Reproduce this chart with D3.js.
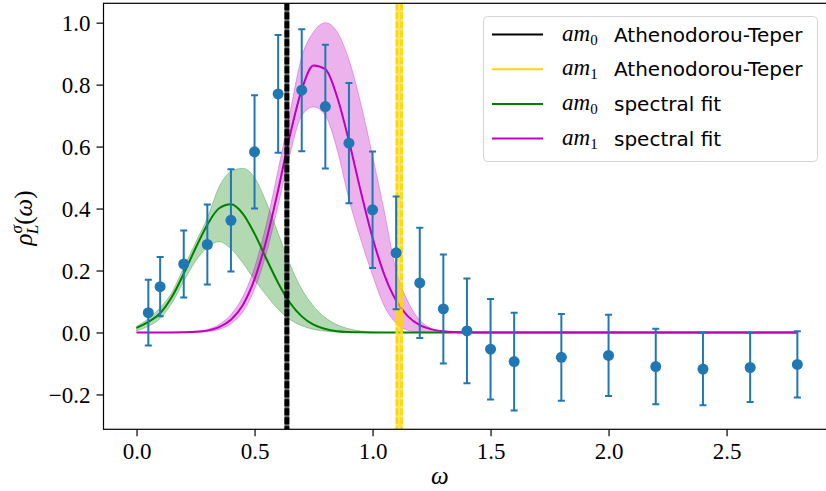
<!DOCTYPE html>
<html>
<head>
<meta charset="utf-8">
<script src="https://cdn.jsdelivr.net/npm/d3@7"></script>
<style>
  body { margin: 0; background: #fff; }
</style>
</head>
<body>
<svg id="chart"></svg>
<script>
// lattice data points (omega, rho, error)
var omega = [0.05, 0.1, 0.2, 0.3, 0.4, 0.5, 0.6, 0.7, 0.8, 0.9, 1.0, 1.1, 1.2, 1.3, 1.4, 1.5, 1.6, 1.8, 2.0, 2.2, 2.4, 2.6, 2.8];
var rho = [0.064, 0.148, 0.221, 0.284, 0.362, 0.583, 0.770, 0.782, 0.729, 0.611, 0.396, 0.257, 0.160, 0.076, 0.005, -0.054, -0.094, -0.080, -0.074, -0.110, -0.118, -0.113, -0.103];
var rhoErr = [0.106, 0.096, 0.108, 0.129, 0.165, 0.183, 0.190, 0.197, 0.200, 0.194, 0.188, 0.182, 0.178, 0.176, 0.169, 0.162, 0.158, 0.140, 0.131, 0.122, 0.117, 0.111, 0.107];

var fitOmega = [0, 0.05, 0.1, 0.15, 0.2, 0.25, 0.3, 0.35, 0.4, 0.45, 0.5, 0.55, 0.6, 0.65, 0.7, 0.75, 0.8, 0.85, 0.9, 0.95, 1.0, 1.05, 1.1, 1.15, 1.2, 1.25, 1.3, 1.35, 1.4, 1.45, 1.5, 2.8];
var fit0 = [0.015, 0.034, 0.062, 0.115, 0.19, 0.272, 0.348, 0.401, 0.414, 0.384, 0.319, 0.238, 0.160, 0.096, 0.052, 0.025, 0.011, 0.004, 0.0015, 0.0005, 0, 0, 0, 0, 0, 0, 0, 0, 0, 0, 0, 0];
var fit0Lo = [0.005, 0.02, 0.045, 0.095, 0.165, 0.23, 0.275, 0.293, 0.27, 0.225, 0.17, 0.12, 0.075, 0.042, 0.022, 0.01, 0.004, 0.001, 0, 0, 0, 0, 0, 0, 0, 0, 0, 0, 0, 0, 0, 0];
var fit0Hi = [0.02, 0.045, 0.08, 0.13, 0.21, 0.29, 0.37, 0.47, 0.52, 0.53, 0.50, 0.42, 0.32, 0.22, 0.14, 0.085, 0.048, 0.025, 0.012, 0.005, 0.002, 0, 0, 0, 0, 0, 0, 0, 0, 0, 0, 0];
var fit1 = [0, 0, 0, 0.0001, 0.0006, 0.002, 0.006, 0.017, 0.041, 0.088, 0.172, 0.298, 0.46, 0.636, 0.784, 0.862, 0.85, 0.76, 0.618, 0.456, 0.306, 0.186, 0.103, 0.052, 0.024, 0.01, 0.004, 0.0015, 0.0005, 0, 0, 0];
var fit1Lo = [0, 0, 0, 0, 0.0003, 0.001, 0.003, 0.010, 0.028, 0.066, 0.14, 0.255, 0.41, 0.575, 0.70, 0.728, 0.70, 0.59, 0.43, 0.30, 0.185, 0.085, 0.03, 0.007, 0.001, 0, 0, 0, 0, 0, 0, 0];
var fit1Hi = [0, 0, 0, 0.0003, 0.001, 0.004, 0.010, 0.026, 0.058, 0.115, 0.21, 0.35, 0.525, 0.71, 0.89, 0.97, 1.0, 0.97, 0.88, 0.74, 0.57, 0.39, 0.20, 0.10, 0.04, 0.013, 0.005, 0.002, 0.001, 0, 0, 0];

// Athenodorou-Teper masses (am0, am1) and their errors
var atMass = [0.637, 1.113];
var atErr = [0.010, 0.015];
var atColor = ["#000000", "#FFD700"];

var xTicks = [0, 0.5, 1.0, 1.5, 2.0, 2.5];
var yTicks = [-0.2, 0, 0.2, 0.4, 0.6, 0.8, 1.0];

var legendSub = ["0", "1", "0", "1"];
var legendText = ["Athenodorou-Teper", "Athenodorou-Teper", "spectral fit", "spectral fit"];
var legendColor = ["#000000", "#FFD700", "#008000", "#BF00BF"];

var width = 826;
var height = 491;
var pLeft = 103.5, pRight = 830.4, pTop = 3.3, pBottom = 429.3;

var x = d3.scaleLinear().domain([-0.14, 2.94]).range([pLeft, pRight]);
var y = d3.scaleLinear().domain([-0.3125, 1.0625]).range([pBottom, pTop]);

var svg = d3.select("#chart").attr("width", width).attr("height", height);

svg.append("clipPath").attr("id", "clip")
  .append("rect")
  .attr("x", pLeft).attr("y", pTop)
  .attr("width", pRight - pLeft).attr("height", pBottom - pTop);

var plot = svg.append("g").attr("clip-path", "url(#clip)");

var fitData = fitOmega.map((w, i) => ({
  w: w, f0: fit0[i], lo0: fit0Lo[i], hi0: fit0Hi[i],
  f1: fit1[i], lo1: fit1Lo[i], hi1: fit1Hi[i]
}));

var band = (lo, hi) => d3.area()
  .x((d) => x(d.w))
  .y0((d) => y(d[lo]))
  .y1((d) => y(d[hi]))
  .curve(d3.curveMonotoneX);
var line = (k) => d3.line()
  .x((d) => x(d.w))
  .y((d) => y(d[k]))
  .curve(d3.curveMonotoneX);

// shaded bands
plot.append("path").attr("d", band("lo0", "hi0")(fitData))
  .attr("fill", "#008000").attr("fill-opacity", 0.3)
  .attr("stroke", "#008000").attr("stroke-opacity", 0.3).attr("stroke-width", 1);
plot.append("path").attr("d", band("lo1", "hi1")(fitData))
  .attr("fill", "#BF00BF").attr("fill-opacity", 0.3)
  .attr("stroke", "#BF00BF").attr("stroke-opacity", 0.3).attr("stroke-width", 1);

// fit curves
plot.append("path").attr("d", line("f0")(fitData))
  .attr("fill", "none").attr("stroke", "#008000").attr("stroke-width", 2);
plot.append("path").attr("d", line("f1")(fitData))
  .attr("fill", "none").attr("stroke", "#BF00BF").attr("stroke-width", 2);

// vertical mass lines
atMass.forEach(function (m, i) {
  var x0 = x(m - atErr[i]);
  var x1 = x(m + atErr[i]);
  plot.append("rect")
    .attr("x", x0).attr("y", pTop)
    .attr("width", x1 - x0).attr("height", pBottom - pTop)
    .attr("fill", atColor[i]).attr("fill-opacity", 0.6);
  [x0 + 1.2, x1 - 1.2].forEach(function (xx) {
    plot.append("line")
      .attr("x1", xx).attr("x2", xx)
      .attr("y1", pTop).attr("y2", pBottom)
      .attr("stroke", atColor[i]).attr("stroke-width", 2.6)
      .attr("stroke-dasharray", "7,2");
  });
});

// error bars
var pts = omega.map((w, i) => ({ w: w, v: rho[i], e: rhoErr[i] }));
var eb = plot.selectAll(".eb").data(pts).enter().append("g").classed("eb", true);
eb.append("line")
  .attr("x1", (d) => x(d.w)).attr("x2", (d) => x(d.w))
  .attr("y1", (d) => y(d.v - d.e)).attr("y2", (d) => y(d.v + d.e))
  .attr("stroke", "#1f77b4").attr("stroke-width", 2);
[-1, 1].forEach(function (s) {
  eb.append("line")
    .attr("x1", (d) => x(d.w) - 3.5).attr("x2", (d) => x(d.w) + 3.5)
    .attr("y1", (d) => y(d.v + s * d.e)).attr("y2", (d) => y(d.v + s * d.e))
    .attr("stroke", "#1f77b4").attr("stroke-width", 2);
});
eb.append("circle")
  .attr("cx", (d) => x(d.w)).attr("cy", (d) => y(d.v))
  .attr("r", 5.5).attr("fill", "#1f77b4");

// axes
var fmt = (d) => d3.format(".1f")(d).replace("-", "\u2212");
var xAxis = svg.append("g")
  .attr("transform", `translate(0, ${pBottom})`)
  .call(d3.axisBottom(x).tickValues(xTicks).tickSize(7).tickPadding(6).tickFormat(fmt));
var yAxis = svg.append("g")
  .attr("transform", `translate(${pLeft}, 0)`)
  .call(d3.axisLeft(y).tickValues(yTicks).tickSize(7).tickPadding(6).tickFormat(fmt));
[xAxis, yAxis].forEach(function (a) {
  a.select(".domain").remove();
  a.selectAll("line").attr("stroke", "#000").attr("stroke-width", 1.2);
  a.selectAll("text")
    .attr("fill", "#000")
    .style("font-family", "'Liberation Serif', serif")
    .style("font-size", "23px");
});
yAxis.selectAll("text").attr("dy", "0.35em");

// frame
svg.append("rect")
  .attr("x", pLeft).attr("y", pTop)
  .attr("width", pRight - pLeft).attr("height", pBottom - pTop)
  .attr("fill", "none").attr("stroke", "#000").attr("stroke-width", 1.2);

// axis labels
svg.append("text")
  .attr("x", x(1.285)).attr("y", 484)
  .attr("text-anchor", "middle")
  .style("font-family", "'Liberation Serif', serif")
  .style("font-style", "italic")
  .style("font-size", "25px")
  .text("\u03c9");

var yl = svg.append("text")
  .attr("transform", "translate(32, 218) rotate(-90)")
  .attr("text-anchor", "middle")
  .style("font-family", "'Liberation Serif', serif")
  .style("font-size", "25px");
yl.append("tspan").style("font-style", "italic").text("\u03c1");
yl.append("tspan").style("font-style", "italic").style("font-size", "17px")
  .attr("dy", -10).text("\u03c3");
yl.append("tspan").style("font-style", "italic").style("font-size", "17px")
  .attr("dx", -9).attr("dy", 16).text("L");
yl.append("tspan").attr("dy", -6).text("(");
yl.append("tspan").style("font-style", "italic").text("\u03c9");
yl.append("tspan").text(")");

// legend
var lg = svg.append("g");
lg.append("rect")
  .attr("x", 483.5).attr("y", 16.5)
  .attr("width", 334).attr("height", 145)
  .attr("rx", 4)
  .attr("fill", "#fff").attr("fill-opacity", 0.8)
  .attr("stroke", "#d4d4d4").attr("stroke-width", 1);
legendText.forEach(function (t, i) {
  var cy = 34.5 + i * 34.7;
  lg.append("line")
    .attr("x1", 492).attr("x2", 543)
    .attr("y1", cy).attr("y2", cy)
    .attr("stroke", legendColor[i]).attr("stroke-width", 2);
  var m = lg.append("text")
    .attr("x", 562).attr("y", cy + 6)
    .style("font-family", "'Liberation Serif', serif")
    .style("font-size", "23px");
  m.append("tspan").style("font-style", "italic").text("am");
  m.append("tspan").style("font-size", "15px").attr("dy", 4).text(legendSub[i]);
  lg.append("text")
    .attr("x", 614).attr("y", cy + 7)
    .style("font-family", "'DejaVu Sans', sans-serif")
    .style("font-size", "20px")
    .text(t);
});
</script>
</body>
</html>
